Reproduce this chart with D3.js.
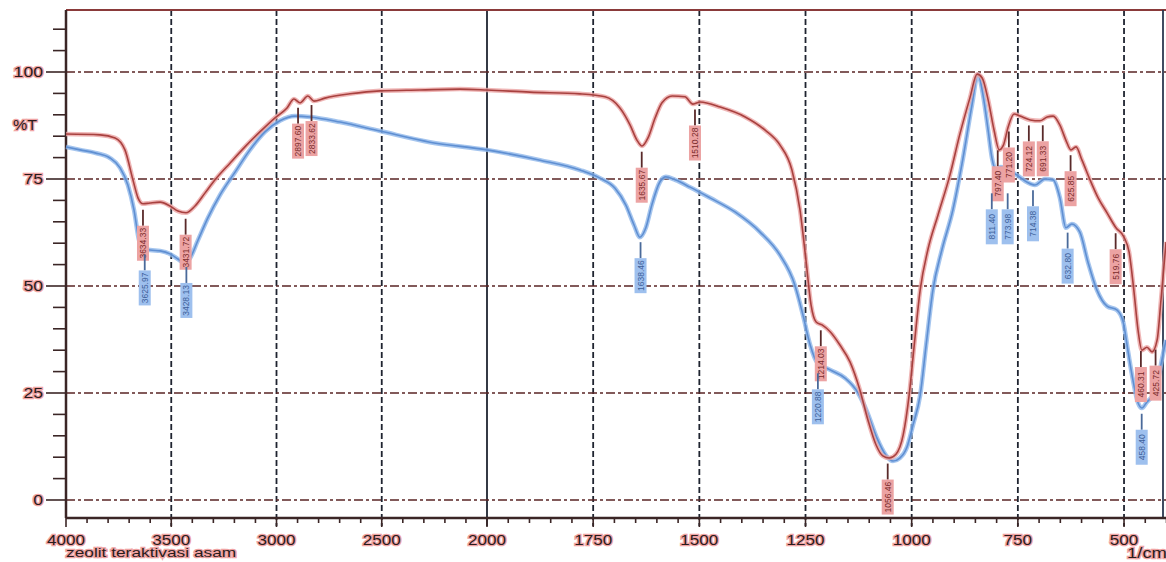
<!DOCTYPE html>
<html>
<head>
<meta charset="utf-8">
<script src="https://cdn.jsdelivr.net/npm/d3@7"></script>
<style>
body { margin: 0; background: #fff; }
text { font-family: "Liberation Sans", Arial, sans-serif; }
</style>
</head>
<body>
<script>
var width = 1166;
var height = 562;

// spectrum 1 (red)
var redWn = [4000, 3838, 3767, 3720, 3682, 3658, 3634, 3601, 3553, 3506, 3468, 3430, 3387, 3340, 3292, 3221, 3150, 3079, 3007, 2950,
  2917, 2889, 2851, 2822, 2770, 2651, 2508, 2319, 2128, 2000, 1899, 1781, 1722, 1687, 1663, 1647, 1635, 1621, 1604, 1588,
  1564, 1534, 1515, 1498, 1451, 1392, 1345, 1310, 1282, 1263, 1249, 1237, 1225, 1211, 1192, 1169, 1145, 1122, 1103, 1084,
  1068, 1053, 1037, 1020, 1006, 994, 980, 962, 938, 910, 887, 863, 846, 834, 820, 806, 794, 784, 773, 759,
  745, 721, 698, 681, 667, 651, 637, 625, 613, 599, 580, 561, 540, 519, 500, 488, 477, 467, 458, 446,
  434, 422, 413, 401];
var redT = [85.5, 85.3, 84.6, 81.8, 74.8, 70.6, 69.2, 69.4, 69.6, 68.7, 67.5, 67.1, 68.7, 71.7, 74.8, 78.7, 82.5, 86.0, 89.3, 91.6,
  93.7, 92.8, 94.4, 93.2, 93.9, 94.9, 95.6, 95.8, 96.0, 95.8, 95.3, 94.9, 94.2, 91.6, 87.6, 84.1, 82.7, 84.6, 89.3, 92.8,
  94.4, 94.2, 92.5, 93.0, 91.8, 89.5, 86.4, 82.9, 77.1, 67.8, 56.1, 45.6, 41.6, 40.9, 39.3, 36.2, 32.2, 25.7, 18.7, 12.9,
  10.3, 9.8, 10.7, 15.2, 24.5, 36.2, 49.1, 58.4, 66.6, 75.9, 85.3, 93.9, 99.5, 98.6, 93.5, 86.4, 81.8, 82.9, 87.1, 90.2,
  89.7, 88.8, 88.6, 89.5, 89.7, 87.6, 84.1, 81.8, 82.5, 79.4, 74.8, 70.6, 67.1, 63.6, 61.4, 57.9, 49.1, 39.7, 35.0, 35.7,
  34.6, 37.4, 46.7, 60.3];

// spectrum 2 (blue)
var blueWn = [4000, 3933, 3862, 3791, 3743, 3706, 3677, 3653, 3634, 3601, 3553, 3506, 3468, 3440, 3411, 3373, 3326, 3268, 3197, 3126,
  3055, 2984, 2912, 2841, 2698, 2508, 2271, 2000, 1875, 1781, 1734, 1699, 1673, 1654, 1640, 1626, 1612, 1593, 1579, 1557,
  1522, 1475, 1416, 1357, 1310, 1275, 1256, 1239, 1223, 1192, 1157, 1126, 1105, 1082, 1061, 1044, 1028, 1011, 997, 980,
  966, 950, 929, 903, 880, 858, 844, 832, 820, 811, 801, 790, 773, 752, 729, 710, 686, 667, 651, 637,
  623, 604, 585, 564, 540, 517, 502, 491, 479, 467, 458, 446, 432, 420, 411, 401];
var blueT = [82.5, 81.8, 81.1, 79.9, 77.6, 73.6, 67.8, 60.7, 58.9, 58.4, 58.2, 57.5, 56.3, 55.4, 56.5, 60.7, 65.9, 71.3, 76.6, 81.8,
  86.0, 88.6, 89.7, 89.5, 88.3, 86.2, 83.6, 81.8, 79.4, 77.1, 75.2, 72.9, 68.9, 64.3, 61.4, 63.6, 68.9, 74.3, 75.5, 74.8,
  73.1, 70.6, 67.3, 62.6, 57.2, 50.2, 43.2, 36.2, 32.2, 30.4, 28.5, 25.0, 20.6, 14.5, 10.5, 9.1, 9.8, 12.4, 17.5, 24.5,
  36.2, 49.1, 58.4, 67.8, 79.4, 92.3, 99.5, 94.6, 86.4, 79.9, 77.1, 77.8, 77.1, 75.9, 74.3, 73.6, 75.0, 74.8, 70.6, 63.6,
  64.5, 62.6, 55.6, 49.1, 45.3, 44.4, 41.6, 35.0, 28.0, 22.7, 21.5, 22.9, 24.5, 28.0, 32.7, 37.4];

// peak labels
var redPeaks = [3634.33, 3431.72, 2897.60, 2833.62, 1635.67, 1510.28, 1214.03, 1056.46, 797.40, 771.20, 724.12, 691.33, 625.85, 519.76, 460.31, 425.72];
var bluePeaks = [3625.97, 3428.13, 1638.46, 1220.88, 811.40, 773.98, 714.38, 632.80, 458.40];

var xTicks = [4000, 3500, 3000, 2500, 2000, 1750, 1500, 1250, 1000, 750, 500];
var yTicks = [0, 25, 50, 75, 100];

var plotTop = 10, plotBottom = 518, plotLeft = 66, plotRight = 1163;

var svg = d3.select('body').append('svg')
  .attr('width', width)
  .attr('height', height);

var x = d3.scaleLinear().domain([4000, 2000, 400]).range([66, 487, 1166.5]);
var y = d3.scaleLinear().domain([0, 100]).range([500, 72]);

var darkLine = '#3b2626';
var halo = '#efa3a3';

// grid
svg.append('g').selectAll('line')
  .data(xTicks.filter(d => d != 4000))
  .enter().append('line')
  .attr('x1', d => x(d)).attr('x2', d => x(d))
  .attr('y1', plotTop).attr('y2', plotBottom + 8)
  .attr('stroke', '#1f2430')
  .attr('stroke-width', 1.8)
  .attr('stroke-dasharray', d => d == 2000 ? null : '6,3');

svg.append('g').selectAll('line')
  .data(yTicks)
  .enter().append('line')
  .attr('x1', plotLeft).attr('x2', width)
  .attr('y1', d => y(d)).attr('y2', d => y(d))
  .attr('stroke', '#5a2424')
  .attr('stroke-width', 1.6)
  .attr('stroke-dasharray', '9,3,3,3');

// frame
svg.append('line').attr('x1', plotLeft).attr('x2', width).attr('y1', plotTop).attr('y2', plotTop)
  .attr('stroke', '#8a3a3a').attr('stroke-width', 2);
svg.append('line').attr('x1', plotRight).attr('x2', plotRight).attr('y1', plotTop).attr('y2', plotBottom)
  .attr('stroke', '#2c3850').attr('stroke-width', 1.8);
svg.append('line').attr('x1', plotLeft).attr('x2', plotLeft).attr('y1', plotTop).attr('y2', plotBottom)
  .attr('stroke', darkLine).attr('stroke-width', 2.5);
svg.append('line').attr('x1', plotLeft).attr('x2', width).attr('y1', plotBottom).attr('y2', plotBottom)
  .attr('stroke', darkLine).attr('stroke-width', 2.5);

// y ticks
svg.append('g').selectAll('line')
  .data(d3.range(0, 115, 5))
  .enter().append('line')
  .attr('x1', d => d % 25 == 0 ? 46 : 53).attr('x2', plotLeft)
  .attr('y1', d => y(d)).attr('y2', d => y(d))
  .attr('stroke', darkLine).attr('stroke-width', 1.6);

// x ticks
var minorX = d3.range(4000, 2000, -100).concat(d3.range(2000, 399, -50));
svg.append('g').selectAll('line')
  .data(minorX)
  .enter().append('line')
  .attr('x1', d => x(d)).attr('x2', d => x(d))
  .attr('y1', plotBottom).attr('y2', d => xTicks.indexOf(d) >= 0 ? plotBottom + 9 : plotBottom + 5)
  .attr('stroke', darkLine).attr('stroke-width', 1.6);

// the scan's text is wide and squat, so stretch it
function haloText(sel, charW) {
  sel.attr('fill', '#2a1c1c')
     .attr('stroke', halo)
     .attr('stroke-width', 2.5)
     .attr('paint-order', 'stroke')
     .attr('lengthAdjust', 'spacingAndGlyphs')
     .attr('textLength', function() { return this.textContent.length * charW; })
     .style('font-size', '14px');
}

svg.append('g').selectAll('text')
  .data(xTicks)
  .enter().append('text')
  .attr('x', d => x(d))
  .attr('y', 545)
  .attr('text-anchor', 'middle')
  .text(d => d)
  .call(haloText, 9.5);

svg.append('g').selectAll('text')
  .data(yTicks)
  .enter().append('text')
  .attr('x', 43)
  .attr('y', d => y(d) + 5)
  .attr('text-anchor', 'end')
  .text(d => d)
  .call(haloText, 9.8);

svg.append('text').attr('x', 13).attr('y', 130).text('%T').call(haloText, 12);
svg.append('text').attr('x', 66).attr('y', 557).text('zeolit teraktivasi asam').call(haloText, 7.4)
  .style('font-size', '12.5px');
svg.append('text').attr('x', 1127).attr('y', 558).text('1/cm').call(haloText, 10);

// curves
var toPts = (wn, t) => wn.map((w, i) => [w, t[i]]);
var redPts = toPts(redWn, redT);
var bluePts = toPts(blueWn, blueT);

var line = d3.line()
  .x(d => x(d[0]))
  .y(d => y(d[1]))
  .curve(d3.curveMonotoneX);

var drawCurve = function(pts, haloColor, coreColor) {
  svg.append('path').datum(pts).attr('d', line)
    .attr('fill', 'none').attr('stroke', haloColor).attr('stroke-width', 4.5).attr('stroke-opacity', 0.8);
  svg.append('path').datum(pts).attr('d', line)
    .attr('fill', 'none').attr('stroke', coreColor).attr('stroke-width', 1.6);
};
drawCurve(bluePts, '#8fb6ea', '#5f8fd2');
drawCurve(redPts, '#eba4a4', '#a8413f');

// value on a curve at a given wavenumber
var valueAt = function(pts, w) {
  for (var i = 1; i < pts.length; i++) {
    if (pts[i][0] <= w) {
      var a = pts[i - 1], b = pts[i];
      return a[1] + (b[1] - a[1]) * (a[0] - w) / (a[0] - b[0]);
    }
  }
  return pts[pts.length - 1][1];
};

var boxW = 12, boxH = 35, stickLen = 16, gap = 6;
var placedBoxes = [];

// stick starts just under the curve; push down if a box is already there
var placePeaks = function(peaks, pts) {
  return peaks.map(function(w) {
    var px = x(w);
    var y0 = y(valueAt(pts, w)) + gap;
    placedBoxes.forEach(function(b) {
      if (Math.abs(b.x - px) < 11 && y0 + stickLen < b.y1 + 4 && y0 + stickLen + boxH > b.y0) {
        y0 = b.y1 + 8 - stickLen;
      }
    });
    var p = {w: w, x: px, y: y0, y0: y0 + stickLen, y1: y0 + stickLen + boxH};
    placedBoxes.push(p);
    return p;
  });
};

var drawPeaks = function(placed, stickColor, boxColor, textColor) {
  var g = svg.append('g').selectAll('g')
    .data(placed)
    .enter().append('g')
    .attr('transform', d => 'translate(' + d.x + ',' + d.y + ')');
  g.append('line')
    .attr('x1', 0).attr('x2', 0).attr('y1', 0).attr('y2', stickLen)
    .attr('stroke', stickColor).attr('stroke-width', 1.8);
  g.append('rect')
    .attr('x', -boxW / 2).attr('y', stickLen).attr('width', boxW).attr('height', boxH)
    .attr('fill', boxColor);
  g.append('text')
    .attr('transform', 'translate(3,' + (stickLen + boxH / 2) + ') rotate(-90)')
    .attr('text-anchor', 'middle')
    .attr('fill', textColor)
    .style('font-size', '8.5px')
    .text(d => d.w.toFixed(2));
};
var redPlaced = placePeaks(redPeaks, redPts);
var bluePlaced = placePeaks(bluePeaks, bluePts);
drawPeaks(redPlaced, '#5a2a2a', '#eca3a3', '#7a2b2b');
drawPeaks(bluePlaced, '#4a6a9a', '#9ec0ee', '#3d5f9a');
</script>
</body>
</html>
